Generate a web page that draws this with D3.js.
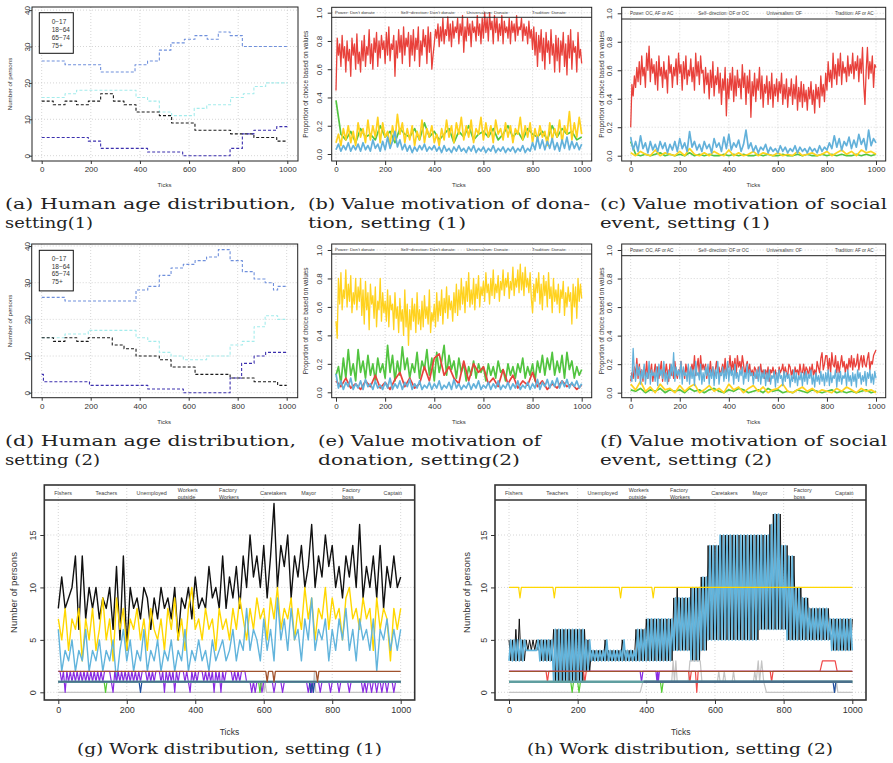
<!DOCTYPE html>
<html>
<head>
<meta charset="utf-8">
<script src="https://d3js.org/d3.v7.min.js"></script>
<style>
  body { margin: 0; background: #fff; }
  svg { display: block; }
</style>
</head>
<body>
<script>
///////////////////////////
// DATA

const xTicks = [0, 200, 400, 600, 800, 1000];
const ageTicks = [0, 10, 20, 30, 40];
const propTicks = [0, 20, 40, 60, 80, 100];   // shown as 0.0 .. 1.0
const workTicks = [0, 5, 10, 15];

const ageLegend = ["0\u221217", "18\u221264", "65\u221274", "75+"];

// age groups, setting (1): [tick, persons] change points
const ageA_18_64 = [[0,26],[95,25],[240,23],[380,25],[431,26],[479,29],[526,31],[581,32],[624,33],[674,32],[719,34],[767,33],[817,30],[1000,30]];
const ageA_0_17  = [[0,16],[95,17],[142,18],[384,16],[431,15],[479,12],[529,11],[621,13],[672,14],[769,16],[821,17],[864,19],[912,20],[1000,20]];
const ageA_65_74 = [[0,15],[47,14],[95,15],[142,14],[190,15],[240,17],[292,15],[335,14],[384,12],[479,11],[529,9],[624,7],[769,6],[864,5],[957,4],[1000,4]];
const ageA_75p   = [[0,5],[190,4],[240,2],[431,1],[574,0],[767,2],[817,6],[864,7],[957,8],[1000,8]];

// age groups, setting (2)
const ageB_18_64 = [[0,26],[95,25],[385,28],[433,29],[480,32],[528,34],[578,35],[626,36],[673,37],[721,39],[769,36],[819,33],[867,31],[912,30],[946,28],[963,29],[1000,29]];
const ageB_0_17  = [[0,15],[95,16],[190,17],[385,15],[433,14],[480,11],[528,10],[578,9],[673,10],[769,13],[819,14],[867,18],[912,21],[963,20],[1000,20]];
const ageB_65_74 = [[0,15],[48,14],[95,15],[143,14],[190,15],[288,13],[336,12],[385,10],[480,9],[528,7],[626,5],[769,4],[867,3],[963,2],[1000,2]];
const ageB_75p   = [[0,5],[7,3],[195,2],[433,1],[578,0],[769,4],[816,8],[867,10],[914,11],[1000,11]];

// donation, setting (1), percent of choices, sampled evenly over 0..1000
const donA_red = [45,82,70,78,62,84,68,76,58,80, 66,74,55,82,70,78,60,85,64,72,
  58,80,66,84,62,76,70,88,64,78, 60,82,72,86,62,80,68,84,74,80,
  64,86,70,90,66,78,74,84,55,80, 68,88,72,84,64,90,70,82,76,86,
  62,84,70,88,66,82,74,90,62,80, 70,88,76,84,64,90,72,86,60,70,
  78,88,82,92,76,90,80,96,78,88, 84,97,80,92,76,94,82,90,86,96,
  78,92,84,98,72,90,80,96,84,92, 76,94,86,90,80,98,84,92,78,96,
  82,100,86,96,80,100,88,94,78,98, 86,96,80,92,84,98,78,94,86,90,
  82,96,78,94,86,92,80,98,84,90, 88,96,80,92,84,90,78,94,82,88,
  74,90,70,86,62,84,72,88,66,82, 60,86,72,80,64,88,70,78,58,84,
  66,82,58,80,70,86,62,78,56,84, 68,88,60,80,72,76,58,86,68,74, 64];
const donA_yel = [8,14,6,18,10,20,8,16,6,22, 12,18,8,24,10,20,12,26,8,22, 12,16,6,20,10,28,14,22,8,18,
  10,20,6,16,10,24,8,18,12,20, 8,14,6,18,10,24,12,20,8,22, 14,26,10,20,12,24,8,18,14,26,
  10,22,12,20,8,24,14,18,10,22, 12,20,8,18,14,26,10,20,12,22, 8,18,10,20,12,16,6,22,10,18,
  12,24,8,20,14,30,10,22,12,26, 14];
const donA_grn = [38,14,10,16,8,18,12,14,10,20, 12,16,8,18,14,12,18,10,22,12, 16,10,14,18,8,16,12,20,10,14,
  16,12,18,10,14,20,12,16,10,18, 14,12,16,10,20,12,18,14,16,10, 12];
const donA_blu = [3,7,2,6,3,8,2,6,3,7, 2,8,3,6,2,10,4,7,2,9, 3,12,4,9,16,5,10,3,7,2,
  6,1,5,2,6,3,7,2,5,3, 6,2,5,1,6,2,4,1,5,2, 6,2,4,1,5,2,6,1,4,2,
  5,1,4,2,6,1,4,2,5,1, 4,2,5,1,4,2,6,1,4,2, 8,3,12,4,10,3,9,4,11,3,
  8,2,10,4,12,3,9,4,8,3, 7];

// social event, setting (1)
const socA_red = [20,50,42,56,48,62,52,66,50,70, 56,62,48,72,60,77,52,68,58,64,
  50,66,46,70,56,62,48,66,54,60, 44,70,58,64,48,62,56,68,50,72,
  58,64,46,66,54,70,50,60,56,68, 52,62,46,72,56,66,50,70,58,60,
  44,62,50,58,40,60,48,66,42,56, 50,62,44,58,36,54,46,62,28,54,
  40,58,46,62,38,56,42,60,48,54, 40,64,48,58,36,56,44,60,27,52,
  42,58,38,54,46,62,40,56,34,50, 44,56,36,52,40,58,34,50,42,54,
  38,52,44,58,36,50,40,54,34,48, 42,54,36,50,40,56,32,48,38,52,
  34,50,38,46,32,48,40,52,36,46, 30,50,40,48,34,56,42,50,38,58,
  46,66,52,60,48,72,54,64,50,68, 56,72,50,66,58,62,52,70,56,64,
  58,72,54,66,60,70,52,68,58,76, 50,36,60,76,54,66,58,70,48,64, 62];
const socA_blu = [13,4,10,3,14,5,9,2,10,4, 8,3,10,5,9,2,8,4,10,3, 12,5,9,3,17,6,10,4,8,3,
  10,5,8,2,12,6,9,3,13,5, 15,4,9,6,11,3,8,18,5,9, 3,7,2,6,4,8,2,6,3,5,
  2,7,3,6,2,5,3,7,2,6, 3,5,2,6,3,5,2,7,3,6, 4,9,5,14,6,12,4,10,7,13,
  5,11,6,15,8,12,4,18,7,12, 9];
const socA_yel = [2,0,3,1,0,4,0,2,1,0, 3,0,5,1,0,2,0,3,1,0, 4,0,2,0,1,3,0,2,1,0, 2,0,1,0,3,0,1,2,0,1, 3,0,2,4,1,3,0,4,2,3, 1];
const socA_grn = [10,1,0,1,0,1,2,0,1,0, 1,0,2,0,1,0,1,0,0,1, 0,1,0,1,0,0,1,0,1,0, 0,1,0,0,1,0,1,0,0,1, 0,1,0,1,0,0,1,0,1,0, 1];

// donation, setting (2)
const donB_yel = [50,38,80,62,84,58,72,66,86,60, 76,64,82,56,70,62,80,58,74,64,
  80,54,72,48,78,58,70,44,76,62, 68,52,74,46,64,58,80,50,70,56,
  64,50,72,46,68,58,62,44,70,52, 60,42,66,50,58,40,72,46,62,33,
  58,44,66,50,62,42,70,48,58,44, 64,46,68,52,60,48,72,42,56,50,
  62,46,70,50,64,54,72,48,66,56, 74,52,68,58,64,50,70,56,76,54,
  72,58,80,62,74,56,78,64,84,60, 72,62,80,58,76,66,82,60,74,68,
  78,64,84,70,76,62,80,68,86,66, 76,70,82,64,78,72,86,68,80,74,
  84,66,78,72,88,68,80,74,86,70, 90,72,84,68,88,74,80,70,84,66,
  56,76,64,80,70,84,62,76,58,82, 68,78,60,84,66,74,56,80,64,72,
  62,76,56,72,66,78,54,70,60,74, 64,70,48,76,60,74,52,80,64,76, 66];
const donB_grn = [12,18,6,24,10,30,12,20,8,30, 14,22,10,26,12,20,8,24,14,20, 10,33,14,26,8,22,12,32,16,24,
  10,20,14,28,10,22,16,30,12,24, 8,28,14,22,33,12,26,16,22,10, 24,14,20,8,18,12,22,10,20,14,
  18,8,20,12,18,10,22,14,16,8, 20,12,18,10,20,14,24,10,18,12, 20,8,22,14,26,12,24,16,28,12,
  22,14,26,10,28,16,22,10,18,12, 16];
const donB_red = [8,4,10,3,6,2,8,4,12,3, 7,2,9,14,4,10,3,6,18,8, 24,27,12,18,10,6,22,8,20,14,
  18,6,10,4,16,6,12,3,8,5, 14,4,8,2,6,3,8,4,6,2, 5];
const donB_blu = [13,3,8,2,7,4,10,2,6,3, 8,2,9,4,6,2,8,3,5,2, 7,3,10,2,6,3,8,2,7,4,
  9,2,6,3,8,2,5,3,7,2, 6,3,8,2,5,3,7,2,9,3, 6,2,5,3,7,2,6,3,8,2,
  5,3,7,2,6,3,8,2,5,3, 7,2,6,3,8,2,5,3,7,2, 6,3,9,2,7,4,9,3,8,4,
  10,3,8,4,9,3,7,4,8,3, 6];

// social event, setting (2)
const socB_blu = [12,8,31,14,8,20,12,18,6,16, 10,20,6,14,10,22,6,16,12,14,
  8,18,5,20,12,16,10,22,8,14, 6,16,10,20,12,28,8,18,12,16,
  10,22,6,18,12,14,8,20,6,18, 10,16,5,22,12,14,9,20,6,14,
  8,18,12,20,6,16,10,18,5,16, 10,22,6,14,12,18,8,16,10,22,
  8,18,12,16,6,20,10,14,8,16, 12,18,6,14,10,20,8,16,12,14,
  6,14,10,16,8,18,6,14,10,16, 5,14,8,16,6,12,10,15,4,14,
  7,16,10,12,5,15,8,14,10,13, 4,12,8,16,7,14,5,12,9,14,
  5,14,8,15,6,13,10,16,6,12, 4,14,8,12,6,15,8,13,5,14,
  8,16,5,14,7,12,10,16,4,14, 8,15,6,12,10,14,5,16,8,12,
  5,14,8,13,4,16,10,14,6,12, 8,15,5,14,10,16,7,13,6,15, 10];
const socB_red = [8,14,10,18,12,24,10,20,12,16, 8,18,12,22,10,16,14,20,8,14,
  20,12,18,10,16,22,8,18,12,20, 14,8,20,12,16,10,22,14,10,16,
  14,22,12,16,10,20,14,18,10,16, 20,14,26,12,18,24,12,26,16,20,
  16,20,10,18,14,22,12,18,10,16, 22,14,18,12,16,20,14,24,12,18,
  18,26,14,22,16,24,12,26,18,22, 16,26,20,12,18,22,14,20,12,16,
  12,18,16,10,18,14,20,12,16,10, 16,12,18,8,16,14,18,12,16,10,
  10,18,14,16,20,12,18,14,12,20, 18,12,16,10,18,14,16,12,20,14,
  14,20,12,18,16,12,18,14,20,12, 16,12,22,18,14,24,28,16,20,26,
  26,16,24,14,28,20,18,26,14,22, 14,20,26,18,22,14,20,16,24,18,
  26,16,24,18,20,27,16,22,26,18, 26,20,18,24,28,16,22,20,26,28, 30];
const socB_yel = [6,2,8,1,4,0,6,2,3,0, 5,1,4,6,0,2,5,1,3,0, 6,2,4,0,3,5,1,4,0,2, 3,6,1,0,2,4,1,3,0,2, 1,0,3,1,4,2,0,3,1,2, 0];
const socB_grn = [2,1,3,0,2,1,3,0,2,1, 2,0,3,1,2,0,2,3,1,0, 2,1,3,2,0,1,2,0,3,1, 2,0,1,0,2,1,0,2,1,0, 1,2,0,1,0,1,0,1,2,0, 1];

// work distribution, setting (1), persons
const workA_blk = [8,11,8,9,10,13,6,13,7,10, 8,10,7,9,8,10,6,12,5,13, 4,10,8,9,7,10,9,6,9,7,
  10,8,9,7,10,5,9,8,10,7, 11,8,9,8,12,9,10,8,13,8, 11,9,12,8,13,10,15,11,13,10,
  14,9,13,18,10,14,12,15,9,13, 11,14,10,12,16,10,13,11,15,12, 14,10,12,9,13,11,14,10,16,9,
  12,10,13,9,14,8,12,10,13,10, 11];
const workA_yel = [7,5,8,4,7,6,8,3,7,5, 8,4,6,9,5,7,3,9,6,8, 4,7,6,8,5,7,4,8,6,5,
  7,4,8,6,9,5,7,4,8,10, 6,7,5,8,6,7,4,8,6,7, 5,8,6,9,7,5,8,6,9,7,
  8,5,9,7,10,6,8,7,9,5, 8,6,10,7,9,5,8,7,10,6, 9,7,8,5,9,10,7,8,6,9,
  7,8,4,9,6,8,7,3,8,6, 8];
const workA_blu = [6,2,4,3,5,2,4,3,6,2, 4,3,5,2,4,3,5,1,4,6, 3,5,2,4,3,6,2,4,3,5,
  2,4,3,5,2,4,3,6,2,4, 3,5,3,4,2,5,3,4,5,3, 4,6,3,5,4,8,4,6,5,3,
  7,4,6,3,9,5,7,4,8,5, 6,3,7,5,9,4,6,5,7,3, 6,4,7,5,8,4,6,3,7,5,
  6,4,7,2,6,5,7,4,6,4, 6];
const workA_pur = [2,2,1,2,0,2,1,2,1,2, 1,2,1,2,1,2,1,2,1,2, 1,2,1,2,1,2,1,2,2,2, 2,1,0,2,1,2,1,2,1,2,
  1,2,1,2,1,2,1,2,1,2, 2,2,1,2,1,2,1,2,2,2, 1,2,0,2,1,2,1,2,0,2, 1,2,2,2,1,2,1,0,2,1,
  2,1,2,2,2,1,2,1,2,1, 2,0,2,1,2,0,2,1,2,2, 2,2,1,2,1,2,1,2,2,2, 1,1,1,0,1,0,1,1,1,0,
  1,1,1,1,1,1,0,1,1,1, 1,0,1,1,1,1,1,1,1,1, 1,1,1,1,1,1,0,1,0,1, 1,1,1,0,1,1,1,1,1,0,
  1,1,1,1,0,1,1,1,1,1, 0,1,1,1,1,1,1,1,0,1, 0,1,1,0,1,1,0,1,1,0, 1,1,0,1,1,1,0,1,1,1, 1];
const workA_brn = [[0,2],[606,2],[610,1],[614,2],[626,2],[630,1],[634,2],[753,2],[757,1],[761,2],[1000,2]];
const workA_grn = [[0,1],[134,1],[138,0],[142,1],[585,1],[589,0],[593,1],[1000,1]];
const workA_nav = [[0,1],[236,1],[240,0],[244,1],[733,1],[737,0],[741,1],[745,0],[749,1],[1000,1]];
const workA_gry = [[0,0],[592,0],[597,1],[601,0],[604,1],[608,0],[744,0],[748,2],[752,0],[1000,0]];
const workA_cad = [[0,1],[1000,1]];
const workA_slt = [[0,1],[1000,1]];

// work distribution, setting (2)
const workB_blk = [5,3,5,3,6,3,7,3,5,3, 5,4,5,4,5,4,5,4,5,3, 5,3,5,3,5,3,6,1,6,1, 6,1,6,1,6,1,6,1,6,1,
  6,1,6,1,6,2,5,2,4,3, 4,3,4,3,4,3,5,3,4,3, 4,3,4,3,4,3,5,3,4,3, 4,3,4,3,6,3,6,3,6,3,
  7,3,7,3,7,3,7,3,7,3, 7,3,7,3,7,3,9,4,10,4, 9,4,9,4,9,4,10,3,10,3, 10,3,11,4,11,4,14,5,14,5,
  14,5,14,5,15,5,15,5,15,5, 15,5,15,5,15,5,15,5,15,5, 15,5,15,5,15,5,15,6,15,6, 15,6,16,6,17,6,17,6,17,6,
  14,6,14,5,13,5,13,5,10,5, 10,5,9,5,9,5,8,5,8,5, 8,5,8,5,8,5,8,5,7,4, 7,4,7,4,7,4,7,4,7,4, 7];
const workB_blu = [3,5,3,5,3,5,3,5,3,5, 4,4,4,4,4,4,4,5,3,5, 3,5,3,5,3,5,1,6,1,6, 1,6,1,6,1,6,1,6,1,6,
  1,6,1,6,2,5,2,5,3,4, 3,4,3,4,3,4,3,5,3,4, 3,4,3,4,3,4,3,5,3,4, 3,4,3,4,3,6,3,6,3,6,
  3,7,3,7,3,7,3,7,3,7, 3,7,3,7,3,7,4,9,4,9, 4,9,4,9,4,9,3,10,3,10, 3,10,4,11,4,11,5,14,5,14,
  5,14,5,15,5,15,5,15,5,15, 5,15,5,15,5,15,5,15,5,15, 5,15,5,15,5,15,6,15,6,15, 6,15,6,16,6,17,6,17,6,14,
  6,14,5,13,5,13,5,10,5,10, 5,9,5,9,5,8,5,8,5,8, 5,8,5,8,5,8,5,7,4,7, 4,7,4,7,4,7,4,7,4,7, 4];
const workB_yel = [[0,10],[28,10],[32,9],[36,10],[128,10],[132,9],[136,10],[321,10],[325,9],[329,10],[416,10],[420,9],[424,10],[1000,10]];
const workB_red = [[0,2],[108,2],[112,1],[116,2],[217,2],[221,1],[225,2],[523,2],[527,1],[531,2],[543,2],[547,0],[551,2],[761,2],[765,1],[769,2],[906,2],[913,3],[950,3],[956,2],[1000,2]];
const workB_brn = [[0,2],[1000,2]];
const workB_grn = [[0,1],[180,1],[184,0],[188,1],[200,1],[204,0],[208,1],[441,1],[445,0],[449,1],[1000,1]];
const workB_pur = [[0,2],[382,2],[386,1],[390,2],[428,2],[431,1],[433,2],[435,1],[438,2],[1000,2]];
const workB_nav = [[0,1],[944,1],[948,0],[952,1],[1000,1]];
const workB_gry = [[0,0],[382,0],[390,1],[474,1],[478,3],[482,1],[486,3],[490,1],[522,1],[527,3],[557,3],[562,1],[607,1],[611,2],[615,1],[623,1],[627,2],[631,1],[650,1],[654,2],[658,1],[712,1],[716,2],[720,1],[726,3],[730,1],[736,3],[742,1],[750,0],[950,0],[954,1],[958,0],[1000,0]];
const workB_cad = [[0,1],[1000,1]];
const workB_slt = [[392,1],[1000,1]];

const bandDonation = ["Power: Don't donate", "Self\u2212direction: Don't donate", "Universalism: Donate", "Tradition: Donate"];
const bandSocial = ["Power: OC, AF or AC", "Self\u2212direction: OF or OC", "Universalism: OF", "Tradition: AF or AC"];
const bandWork = [["Fishers"], ["Teachers"], ["Unemployed"], ["Workers", "outside"], ["Factory", "Workers"],
  ["Caretakers"], ["Mayor"], ["Factory", "boss"], ["Captain"]];

///////////////////////////
// COLOURS / FONTS
const SANS = "'Liberation Sans', Arial, Helvetica, sans-serif";
const SERIF = "'DejaVu Serif', serif";
const cRed = '#e8413b', cYel = '#ffd21f', cGrn = '#52c440', cBlu = '#63b1da';
const cAge = ['#a4ecec', '#6f90dc', '#1a1a1a', '#3b2fae'];
const cW = {blk:'#111111', yel:'#ffd700', blu:'#62b4dc', brn:'#a0522d', pur:'#8a2be2',
  cad:'#5f9ea0', slt:'#4a708b', nav:'#1f4f9f', grn:'#55cc33', gry:'#c4c4c4', red:'#f04848'};

///////////////////////////
// SVG
const svg = d3.select('body').append('svg')
  .attr('width', 893).attr('height', 763)
  .style('background-color', '#fff');
const defs = svg.append('defs');

const even = arr => arr.map((v, i) => [i * 1000 / (arr.length - 1), v]);

function mkPanel(id, L) {
  const g = svg.append('g').attr('id', 'panel_' + id);
  const b = L.box;
  const x = d3.scaleLinear().domain([0, 1000]).range(L.xr);
  const y = d3.scaleLinear().domain(L.yd).range(L.yr);
  defs.append('clipPath').attr('id', 'clip_' + id)
    .append('rect').attr('x', b.l).attr('y', b.t).attr('width', b.r - b.l).attr('height', b.b - b.t);

  // grid
  const grid = g.append('g').attr('stroke', '#cccccc').attr('stroke-width', 0.8).attr('stroke-dasharray', '1,2');
  grid.selectAll('line.gv').data(xTicks).join('line').attr('class', 'gv')
    .attr('x1', d => x(d)).attr('x2', d => x(d)).attr('y1', b.t).attr('y2', b.b);
  grid.selectAll('line.gh').data(L.yt).join('line').attr('class', 'gh')
    .attr('x1', b.l).attr('x2', b.r).attr('y1', d => y(d)).attr('y2', d => y(d));

  const plot = g.append('g').attr('clip-path', 'url(#clip_' + id + ')');
  return {id, g, plot, x, y, L};
}

function line(P, pts, color, w, dash, curve) {
  const gen = d3.line().x(d => P.x(d[0])).y(d => P.y(d[1]));
  if (curve) gen.curve(curve);
  P.plot.append('path').datum(pts)
    .attr('d', gen)
    .attr('fill', 'none')
    .attr('stroke', color)
    .attr('stroke-width', w)
    .attr('stroke-linejoin', 'round')
    .attr('stroke-dasharray', dash || null);
}

function finish(P) {
  const L = P.L, b = L.box, g = P.g;
  // band on top
  if (L.band) {
    g.append('line').attr('x1', b.l).attr('x2', b.r).attr('y1', L.band.y).attr('y2', L.band.y)
      .attr('stroke', L.boxColor).attr('stroke-width', L.boxW);
    const bx = i => b.l + L.band.x0 + i * L.band.step;
    L.band.labels.forEach((lab, i) => {
      const lines = Array.isArray(lab) ? lab : [lab];
      lines.forEach((s, j) => {
        const base = lines.length === 1 ? L.band.base : L.band.base2[j];
        g.append('text').attr('x', bx(i)).attr('y', base)
          .attr('font-family', SANS).attr('font-size', L.band.fs).attr('fill', '#444')
          .text(s);
      });
    });
  }
  // box
  g.append('rect').attr('x', b.l).attr('y', b.t).attr('width', b.r - b.l).attr('height', b.b - b.t)
    .attr('fill', 'none').attr('stroke', L.boxColor).attr('stroke-width', L.boxW);

  // axes
  const ax = g.append('g').attr('transform', 'translate(0,' + b.b + ')')
    .call(d3.axisBottom(P.x).tickValues(xTicks).tickSize(L.tk).tickSizeOuter(0).tickFormat(d3.format('d')));
  ax.select('.domain').remove();
  ax.attr('font-family', SANS).attr('font-size', L.fs);
  ax.selectAll('line').attr('stroke', '#333');
  ax.selectAll('text').attr('y', L.xlab).attr('dy', null).attr('fill', '#333');

  const ay = g.append('g').attr('transform', 'translate(' + b.l + ',0)')
    .call(d3.axisLeft(P.y).tickValues(L.yt).tickSize(L.tk).tickSizeOuter(0).tickFormat(L.yfmt || d3.format('d')));
  ay.select('.domain').remove();
  ay.attr('font-family', SANS).attr('font-size', L.fs);
  ay.selectAll('line').attr('stroke', '#333');
  ay.selectAll('text').attr('x', null).attr('dy', null).attr('y', null)
    .attr('text-anchor', 'middle').attr('fill', '#333')
    .attr('transform', 'translate(' + (-L.ylab) + ',0) rotate(-90)');

  // titles
  g.append('text').attr('x', (L.xr[0] + L.xr[1]) / 2).attr('y', L.xt.y)
    .attr('text-anchor', 'middle').attr('font-family', SANS).attr('font-size', L.xt.fs).attr('fill', '#333')
    .text('Ticks');
  g.append('text').attr('transform', 'translate(' + L.yt2.x + ',' + (b.t + b.b) / 2 + ') rotate(-90)')
    .attr('text-anchor', 'middle').attr('font-family', SANS).attr('font-size', L.yt2.fs).attr('fill', '#333')
    .text(L.yt2.text);
}

function ageLegendBox(P, box, base) {
  P.g.append('rect').attr('x', box[0]).attr('y', box[1]).attr('width', box[2]).attr('height', box[3])
    .attr('fill', '#fff').attr('stroke', '#111').attr('stroke-width', 1);
  P.g.selectAll('text.leg').data(ageLegend).join('text').attr('class', 'leg')
    .attr('x', box[0] + 12.4).attr('y', (d, i) => base + i * 7.8)
    .attr('font-family', SANS).attr('font-size', 6.5).attr('fill', '#333')
    .text(d => d);
}

///////////////////////////
// LAYOUTS
const pctFmt = d => (d / 100).toFixed(1);
const topCommon = {tk: 4, fs: 8, boxColor: '#222', boxW: 1};

const LA = Object.assign({}, topCommon, {box: {l: 32, t: 7, r: 298, b: 161}, xr: [41.7, 287.3], yd: [0, 40], yr: [155.7, 10.1],
  yt: ageTicks, tk: 3, ylab: 2, xlab: 11, xt: {y: 186.5, fs: 6}, yt2: {x: 12, fs: 6.2, text: 'Number of persons'}});
const LD = Object.assign({}, LA, {box: {l: 31.7, t: 244, r: 297.7, b: 397.7}, xr: [41.7, 286.7], yr: [392.7, 246],
  xt: {y: 423.5, fs: 6}});

const propCommon = Object.assign({}, topCommon, {yd: [0, 100], yt: propTicks, yfmt: pctFmt, ylab: 9.5, xlab: 11});
const LB = Object.assign({}, propCommon, {box: {l: 331.7, t: 7.3, r: 591.7, b: 161}, xr: [336, 581.7], yr: [154, 12.7],
  xt: {y: 186.5, fs: 6}, yt2: {x: 307.5, fs: 6.5, text: 'Proportion of choice based on values'},
  band: {y: 17.3, x0: 3.3, step: 65.7, base: 13.9, fs: 4.4, labels: bandDonation}});
const LC = Object.assign({}, propCommon, {box: {l: 621.7, t: 7.3, r: 885.7, b: 161}, xr: [630.7, 876], yr: [155.7, 13.3],
  xt: {y: 186.5, fs: 6}, yt2: {x: 603.5, fs: 6.5, text: 'Proportion of choice based on values'},
  band: {y: 19, x0: 8.3, step: 68.3, base: 14.9, fs: 4.6, labels: bandSocial}});
const LE = Object.assign({}, LB, {box: {l: 331.7, t: 244, r: 591.7, b: 397.7}, yr: [392.3, 250],
  xt: {y: 423.5, fs: 6}, band: Object.assign({}, LB.band, {y: 254, base: 250.8})});
const LF = Object.assign({}, LC, {box: {l: 621.7, t: 244, r: 885.7, b: 397.7}, yr: [392.7, 250],
  xt: {y: 423.5, fs: 6}, band: Object.assign({}, LC.band, {y: 255.7, base: 251.6})});

const workCommon = {tk: 4, fs: 9, boxColor: '#333', boxW: 1.6, yd: [0, 15], yt: workTicks, yr: [692.3, 535],
  ylab: 8, xlab: 13, xt: {y: 734.5, fs: 8.5}};
const LG = Object.assign({}, workCommon, {box: {l: 44.3, t: 485, r: 414.7, b: 700}, xr: [58.3, 400.7],
  yt2: {x: 16.5, fs: 9.5, text: 'Number of persons'},
  band: {y: 500, x0: 10, step: 41.15, base: 495.2, base2: [492, 499.4], fs: 5.4, labels: bandWork}});
const LH = Object.assign({}, workCommon, {box: {l: 495, t: 485, r: 866, b: 700}, xr: [509, 852.3],
  yt2: {x: 469.5, fs: 9.5, text: 'Number of persons'},
  band: {y: 500, x0: 10, step: 41.25, base: 495.2, base2: [492, 499.4], fs: 5.4, labels: bandWork}});

///////////////////////////
// (a) / (d) AGE
function agePanel(id, L, s, legendY, legendBase) {
  const P = mkPanel(id, L);
  const step = d3.curveStepAfter;
  line(P, s[1], cAge[1], 1.1, '3,2', step);
  line(P, s[0], cAge[0], 1.1, '3,2', step);
  line(P, s[2], cAge[2], 1.1, '3,2', step);
  line(P, s[3], cAge[3], 1.1, '3,2', step);
  finish(P);
  ageLegendBox(P, [39.3, legendY, 34, 40.6], legendBase);
}
agePanel('a', LA, [ageA_0_17, ageA_18_64, ageA_65_74, ageA_75p], 12.7, 24.4);
agePanel('d', LD, [ageB_0_17, ageB_18_64, ageB_65_74, ageB_75p], 250.3, 260.8);

///////////////////////////
// (b) (c) (e) (f) VALUES
function valuePanel(id, L, grn, yel, red, blu) {
  const P = mkPanel(id, L);
  const w = s => s.length > 150 ? 1.3 : 1.7;
  line(P, even(grn), cGrn, w(grn));
  line(P, even(yel), cYel, w(yel));
  line(P, even(red), cRed, w(red));
  line(P, even(blu), cBlu, w(blu));
  finish(P);
}
valuePanel('b', LB, donA_grn, donA_yel, donA_red, donA_blu);
valuePanel('c', LC, socA_grn, socA_yel, socA_red, socA_blu);
valuePanel('e', LE, donB_grn, donB_yel, donB_red, donB_blu);
valuePanel('f', LF, socB_grn, socB_yel, socB_red, socB_blu);

///////////////////////////
// (g) WORK 1
(function () {
  const P = mkPanel('g', LG);
  line(P, even(workA_blk), cW.blk, 1.4);
  line(P, even(workA_yel), cW.yel, 1.4);
  line(P, even(workA_blu), cW.blu, 1.4);
  line(P, workA_gry, cW.gry, 1.2);
  line(P, even(workA_pur), cW.pur, 1.2);
  line(P, workA_grn, cW.grn, 1.2);
  line(P, workA_nav, cW.nav, 1.2);
  line(P, workA_cad, cW.cad, 2.6);
  line(P, workA_slt, cW.slt, 1.4);
  line(P, workA_brn, cW.brn, 1.3);
  finish(P);
})();

///////////////////////////
// (h) WORK 2
(function () {
  const P = mkPanel('h', LH);
  line(P, even(workB_blk), cW.blk, 1.0);
  line(P, even(workB_blu), cW.blu, 1.6);
  line(P, workB_gry, cW.gry, 1.2);
  line(P, workB_red, cW.red, 1.2);
  line(P, workB_pur, cW.pur, 1.2);
  line(P, workB_brn, cW.brn, 1.3);
  line(P, workB_grn, cW.grn, 1.2);
  line(P, workB_nav, cW.nav, 1.2);
  line(P, workB_cad, cW.cad, 2.6);
  line(P, workB_slt, cW.slt, 2.6);
  line(P, workB_yel, cW.yel, 1.2);
  finish(P);
})();

///////////////////////////
// CAPTIONS
const captions = [
  {t: '(a) Human age distribution,', x: 5, y: 209, len: 291},
  {t: 'setting(1)', x: 5, y: 227.5, len: 88},
  {t: '(b) Value motivation of dona-', x: 308, y: 209, len: 282},
  {t: 'tion, setting (1)', x: 308, y: 227.5, len: 158},
  {t: '(c) Value motivation of social', x: 600, y: 209, len: 287},
  {t: 'event, setting (1)', x: 600, y: 227.5, len: 170},
  {t: '(d) Human age distribution,', x: 5, y: 446, len: 291},
  {t: 'setting (2)', x: 5, y: 464.5, len: 95},
  {t: '(e) Value motivation of', x: 318, y: 446, len: 223},
  {t: 'donation, setting(2)', x: 318, y: 464.5, len: 202},
  {t: '(f) Value motivation of social', x: 600, y: 446, len: 287},
  {t: 'event, setting (2)', x: 600, y: 464.5, len: 172},
  {t: '(g) Work distribution, setting (1)', x: 229.5, y: 753.5, len: 305, mid: true},
  {t: '(h) Work distribution, setting (2)', x: 680, y: 753.5, len: 306, mid: true}
];
svg.append('g').selectAll('text').data(captions).join('text')
  .attr('x', d => d.x).attr('y', d => d.y)
  .attr('text-anchor', d => d.mid ? 'middle' : 'start')
  .attr('textLength', d => d.len)
  .attr('lengthAdjust', 'spacingAndGlyphs')
  .attr('font-family', SERIF).attr('font-size', 15.6).attr('fill', '#222')
  .text(d => d.t);
</script>
</body>
</html>
